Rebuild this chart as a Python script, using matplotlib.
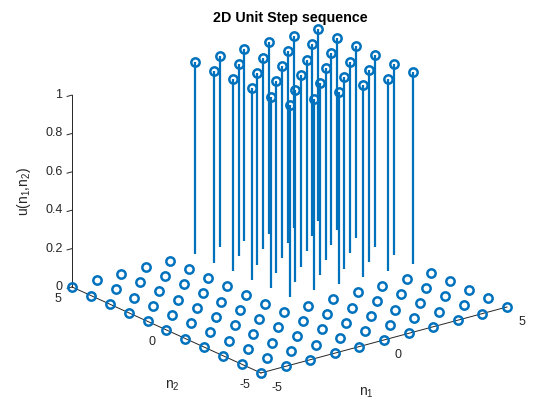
import numpy as np
import matplotlib
matplotlib.use("Agg")
import matplotlib.pyplot as plt

plt.rcParams['font.family'] = ['Liberation Sans', 'DejaVu Sans']
plt.rcParams['mathtext.fontset'] = 'custom'
plt.rcParams['mathtext.rm'] = 'Liberation Sans'
plt.rcParams['mathtext.it'] = 'Liberation Sans'

# ---- data ----
n1 = [-5, -4, -3, -2, -1, 0, 1, 2, 3, 4, 5]
n2 = [-5, -4, -3, -2, -1, 0, 1, 2, 3, 4, 5]
# rows: n2 = -5 .. 5, columns: n1 = -5 .. 5
u = [
    [0, 0, 0, 0, 0, 0, 0, 0, 0, 0, 0],
    [0, 0, 0, 0, 0, 0, 0, 0, 0, 0, 0],
    [0, 0, 0, 0, 0, 0, 0, 0, 0, 0, 0],
    [0, 0, 0, 0, 0, 0, 0, 0, 0, 0, 0],
    [0, 0, 0, 0, 0, 0, 0, 0, 0, 0, 0],
    [0, 0, 0, 0, 0, 1, 1, 1, 1, 1, 1],
    [0, 0, 0, 0, 0, 1, 1, 1, 1, 1, 1],
    [0, 0, 0, 0, 0, 1, 1, 1, 1, 1, 1],
    [0, 0, 0, 0, 0, 1, 1, 1, 1, 1, 1],
    [0, 0, 0, 0, 0, 1, 1, 1, 1, 1, 1],
    [0, 0, 0, 0, 0, 1, 1, 1, 1, 1, 1],
]
n_ticks = [-5, 0, 5]
n_tick_labels = ['-5', '0', '5']
z_ticks = [0, 0.2, 0.4, 0.6, 0.8, 1]
z_tick_labels = ['0', '0.2', '0.4', '0.6', '0.8', '1']
title = '2D Unit Step sequence'
xlabel = r'$\mathregular{n_1}$'
ylabel = r'$\mathregular{n_2}$'
zlabel = r'$\mathregular{u(n_1{,}n_2)}$'

BLUE = '#0072BD'
AX = '#262626'
W, H = 560, 420

fig = plt.figure(figsize=(5.6, 4.2), dpi=100)
ax = fig.add_axes([0.1, 0.1, 0.8, 0.8], projection='3d',
                  proj_type='ortho', computed_zorder=False)
ax.view_init(elev=20.45, azim=-127.5)
ax.set_box_aspect((1, 1, 0.66))
ax.set_xlim(n1[0], n1[-1])
ax.set_ylim(n2[0], n2[-1])
ax.set_zlim(z_ticks[0], z_ticks[-1])
ax.set_axis_off()

N1, N2 = np.meshgrid(n1, n2)
U = np.array(u, dtype=float)
markerline, stemlines, baseline = ax.stem(N1.ravel(), N2.ravel(), U.ravel(),
                                          linefmt='-', markerfmt='o', basefmt=' ')
stemlines.set_color(BLUE)
stemlines.set_linewidth(1.6)
stemlines.set_zorder(2)
markerline.set_color(BLUE)
markerline.set_markerfacecolor('none')
markerline.set_markeredgecolor(BLUE)
markerline.set_markersize(6)
markerline.set_markeredgewidth(1.8)
markerline.set_zorder(3)
baseline.set_visible(False)

x0, x1 = n1[0], n1[-1]
y0, y1 = n2[0], n2[-1]
z0, z1 = z_ticks[0], z_ticks[-1]
# axis lines
ax.plot([x0, x1], [y0, y0], [z0, z0], color=AX, lw=0.7, zorder=1)
ax.plot([x0, x0], [y0, y1], [z0, z0], color=AX, lw=0.7, zorder=1)
ax.plot([x0, x0], [y1, y1], [z0, z1], color=AX, lw=0.7, zorder=1)
for zt in z_ticks:
    ax.plot([x0, x0 - 0.2], [y1, y1], [zt, zt], color=AX, lw=0.7, zorder=1)


def to_px(x, y, z):
    M = ax.get_proj()
    v = M @ np.array([x, y, z, 1.0])
    xs, ys = v[0] / v[3], v[1] / v[3]
    X, Y = ax.transData.transform((xs, ys))
    return X, H - Y


targets = [((x0, y0, z0), (261, 373)), ((x1, y0, z0), (507, 307)),
           ((x0, y1, z0), (72, 287)), ((x0, y1, z1), (72, 95))]

for it in range(5):
    fig.canvas.draw()
    P = [to_px(*p) for p, _ in targets]
    s = (targets[1][1][0] - targets[2][1][0]) / (P[1][0] - P[2][0])
    pos = ax.get_position(original=True)
    cx, cy = pos.x0 + pos.width / 2, pos.y0 + pos.height / 2
    w, h = pos.width * s, pos.height * s
    ax.set_position([cx - w / 2, cy - h / 2, w, h])
    fig.canvas.draw()
    P = [to_px(*p) for p, _ in targets]
    dx = np.mean([t[1][0] - p[0] for t, p in zip(targets, P)])
    dy = np.mean([t[1][1] - p[1] for t, p in zip(targets, P)])
    pos = ax.get_position(original=True)
    ax.set_position([pos.x0 + dx / W, pos.y0 - dy / H, pos.width, pos.height])

fig.canvas.draw()


def ftext(px, py, s, **kw):
    fig.text(px / W, 1 - py / H, s, **kw)


# tick labels
for v, lab in zip(n_ticks, n_tick_labels):
    px, py = to_px(v, y0, z0)
    ftext(px + 11, py + 15.5, lab, ha='left', va='center', fontsize=9, color=AX)
for v, lab in zip(n_ticks, n_tick_labels):
    px, py = to_px(x0, v, z0)
    ftext(px - 11, py + 12.5, lab, ha='right', va='center', fontsize=9, color=AX)
for v, lab in zip(z_ticks, z_tick_labels):
    px, py = to_px(x0, y1, v)
    ftext(px - 9.5, py, lab, ha='right', va='center', fontsize=9, color=AX)

# axis labels
px, py = to_px((x0 + x1) / 2, y0, z0)
ftext(px - 18, py + 56, xlabel, ha='center', va='baseline', fontsize=10, color=AX)
px, py = to_px(x0, (y0 + y1) / 2, z0)
ftext(px + 6, py + 59, ylabel, ha='center', va='baseline', fontsize=10, color=AX)
px, py = to_px(x0, y1, (z0 + z1) / 2)
ftext(px - 48, py, zlabel, ha='center', va='center', rotation=90, fontsize=10, color=AX)

ftext(290, 18, title, ha='center', va='center', fontsize=10.3, fontweight='bold', color='black')

fig.savefig('out.png', dpi=100)
